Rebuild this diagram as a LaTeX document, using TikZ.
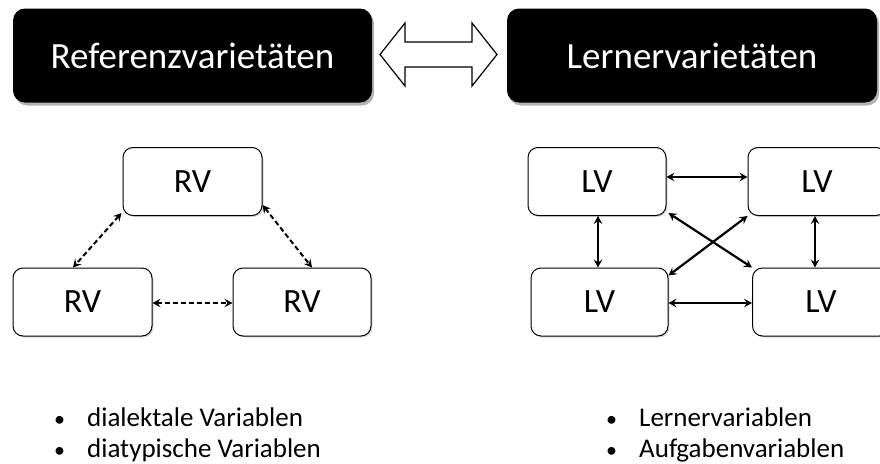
\documentclass[tikz,border=0pt]{standalone}
\usepackage{fontspec}
\setmainfont{Carlito}
\usetikzlibrary{arrows.meta,shadows}
\begin{document}
\begin{tikzpicture}[x=1pt,y=-1pt,
  titlebox/.style={fill=black, rounded corners=12pt, text=white,
    font=\fontsize{37}{42}\selectfont, minimum height=94pt, inner sep=0pt,
    drop shadow={shadow xshift=2pt,shadow yshift=-3pt,opacity=0.3,fill=black}},
  varbox/.style={draw=black, line width=1pt, rounded corners=10pt, fill=white,
    font=\fontsize{34}{40}\selectfont, minimum height=68pt, inner sep=0pt,
    drop shadow={shadow xshift=1.5pt,shadow yshift=-1.5pt,opacity=0.15,fill=black}},
  dasharrow/.style={line width=2pt, dash pattern=on 5pt off 3pt,
    {Stealth[length=8pt,width=8.5pt,inset=3pt]}-{Stealth[length=8pt,width=8.5pt,inset=3pt]}},
  solidarrow/.style={line width=2.2pt,
    {Stealth[length=8pt,width=8.5pt,inset=3pt]}-{Stealth[length=8pt,width=8.5pt,inset=3pt]}},
  bul/.style={anchor=base west, font=\fontsize{27}{31}\selectfont, inner sep=0pt},
  bdot/.style={anchor=base west, font=\fontsize{22}{26}\selectfont, inner sep=0pt}
]
\useasboundingbox (0,0) rectangle (880,463);
\clip (0,0) rectangle (880,463);

% title boxes
\node[titlebox, minimum width=359pt] (ref) at (192.5,55.5) {Referenzvarietäten};
\node[titlebox, minimum width=370pt] (lern) at (692,55.5) {Lernervarietäten};

% block double arrow
\draw[line width=1.2pt, fill=white, line join=miter]
  (380,54.5) -- (405,23) -- (405,42) -- (472,42) -- (472,23) -- (497,54.5)
  -- (472,86) -- (472,67) -- (405,67) -- (405,86) -- cycle;

% RV boxes
\node[varbox, minimum width=139pt] (rvt) at (192.5,181.5) {RV};
\node[varbox, minimum width=139pt] (rvl) at (82.5,302) {RV};
\node[varbox, minimum width=138pt] (rvr) at (302,302) {RV};

\draw[dasharrow] ([xshift=-1pt,yshift=3pt]rvt.south west) -- ([xshift=-9.5pt]rvl.north);
\draw[dasharrow] ([yshift=-23.5pt]rvt.east) -- ([xshift=10pt]rvr.north);
\draw[dasharrow] ([yshift=-1pt]rvl.east) -- ([yshift=-1pt]rvr.west);

% LV boxes
\node[varbox, minimum width=138pt] (lvtl) at (597,181.5) {LV};
\node[varbox, minimum width=138pt] (lvtr) at (817,181.5) {LV};
\node[varbox, minimum width=137pt] (lvbl) at (599.5,302) {LV};
\node[varbox, minimum width=137pt] (lvbr) at (821,302) {LV};

\draw[solidarrow] ([yshift=4.5pt]lvtl.east) -- ([yshift=4.5pt]lvtr.west);
\draw[solidarrow] ([yshift=-1pt]lvbl.east) -- ([yshift=-1pt]lvbr.west);
\draw[solidarrow] ([xshift=1pt]lvtl.south) -- ([xshift=1pt]lvtl.south |- lvbl.north);
\draw[solidarrow] ([xshift=-2pt]lvtr.south) -- ([xshift=-2pt]lvtr.south |- lvbr.north);
\draw[solidarrow] ([xshift=2pt,yshift=3pt]lvtl.south east) -- (lvbr.north west);
\draw[solidarrow] (lvtr.south west) -- ([yshift=-8pt]lvbl.north east);

% bullet lists
\node[bdot] (b1) at (54,426) {•};
\node[bul] (t1) at (87,426) {dialektale Variablen};
\node[bdot] (b2) at (54,457) {•};
\node[bul] (t2) at (87,457) {diatypische Variablen};
\node[bdot] (b3) at (606,426) {•};
\node[bul] (t3) at (639,426) {Lernervariablen};
\node[bdot] (b4) at (606,457) {•};
\node[bul] (t4) at (639,457) {Aufgabenvariablen};
\end{tikzpicture}
\end{document}
